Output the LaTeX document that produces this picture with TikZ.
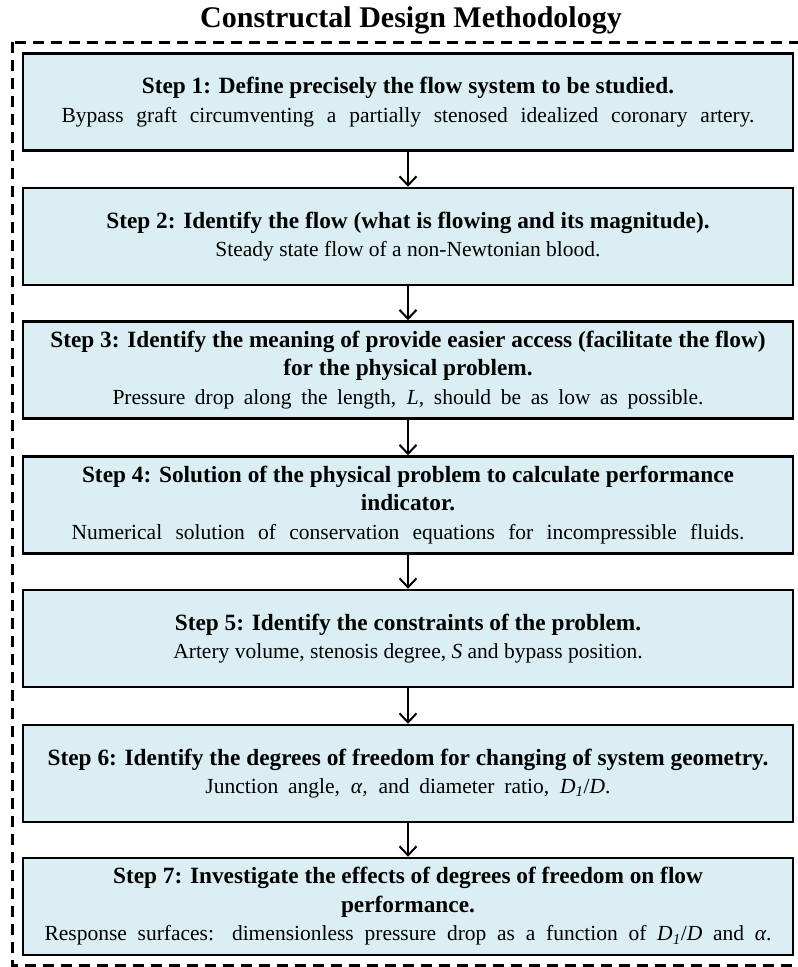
\documentclass[tikz,border=0pt]{standalone}
\usepackage{fontspec}
\setmainfont{Liberation Serif}
\usetikzlibrary{arrows.meta}
\definecolor{stepfill}{HTML}{DAEEF3}
\newcommand\stephead[1]{{\fontsize{23.3}{28.5}\selectfont\bfseries #1}}
\newcommand\spread[2]{\makebox[#1pt][s]{#2}}

\begin{document}
\begin{tikzpicture}[
    x=1pt, y=-1pt,
    stepbox/.style={draw, line width=2.5pt, fill=stepfill, rectangle, minimum width=770pt, minimum height=97pt, align=center, inner sep=0pt, font=\fontsize{21.5}{28.5}\selectfont},
    frame/.style={draw, dashed, line width=3pt, dash pattern=on 11pt off 7pt},
    flow/.style={-{Straight Barb[length=9pt, width=17pt, line width=2pt]}, line width=2.2pt}
]
\useasboundingbox (0,0) rectangle (798,967);

% Title and frame
\node[font=\fontsize{30}{34}\selectfont\bfseries] (title) at (411,20) {Constructal Design Methodology};
\draw[frame] (12,42) rectangle (806,965);

% Steps
\node[stepbox] (s1) at (408,102) {\stephead{Step 1: Define precisely the flow system to be studied.}\\ \spread{693}{Bypass graft circumventing a partially stenosed idealized coronary artery.}};
\node[stepbox] (s2) at (408,236.5) {\stephead{Step 2: Identify the flow (what is flowing and its magnitude).}\\ Steady state flow of a non-Newtonian blood.};
\node[stepbox] (s3) at (408,370) {\stephead{Step 3: Identify the meaning of provide easier access (facilitate the flow)}\\ \stephead{for the physical problem.}\\ \spread{591}{Pressure drop along the length, \textit{L}, should be as low as possible.}};
\node[stepbox] (s4) at (408,505) {\stephead{Step 4: Solution of the physical problem to calculate performance}\\ \stephead{indicator.}\\ \spread{673}{Numerical solution of conservation equations for incompressible fluids.}};
\node[stepbox] (s5) at (408,638.5) {\stephead{Step 5: Identify the constraints of the problem.}\\ Artery volume, stenosis degree, \textit{S} and bypass position.};
\node[stepbox] (s6) at (408,773.5) {\stephead{Step 6: Identify the degrees of freedom for changing of system geometry.}\\ \spread{405}{Junction angle, \textit{α,} and diameter ratio, \textit{D}\textsubscript{\textit{1}}/\textit{D}.}};
\node[stepbox] (s7) at (408,906.5) {\stephead{Step 7: Investigate the effects of degrees of freedom on flow}\\ \stephead{performance.}\\ \spread{727}{Response surfaces: dimensionless pressure drop as a function of \textit{D}\textsubscript{\textit{1}}/\textit{D} and \textit{α}.}};

% Arrows
\draw[flow] (s1) -- (s2);
\draw[flow] (s2) -- (s3);
\draw[flow] (s3) -- (s4);
\draw[flow] (s4) -- (s5);
\draw[flow] (s5) -- (s6);
\draw[flow] (s6) -- (s7);

\end{tikzpicture}
\end{document}
